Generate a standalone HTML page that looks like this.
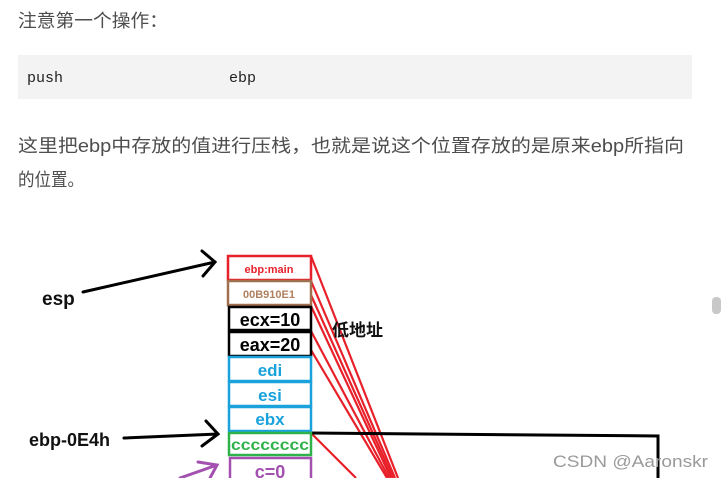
<!DOCTYPE html>
<html><head><meta charset="utf-8"><style>
html,body{margin:0;padding:0;background:#fff;width:723px;height:478px;overflow:hidden}
svg{display:block}
</style></head><body>
<svg width="723" height="478" xmlns="http://www.w3.org/2000/svg">
<g font-family="'Liberation Sans','Noto Sans CJK SC',sans-serif" fill="#4d4d4d">
<text x="18" y="27" font-size="18" textLength="150" lengthAdjust="spacingAndGlyphs">注意第一个操作：</text>
<rect x="18" y="55" width="674" height="44" fill="#f3f3f3"/>
<text x="27" y="82" font-family="'Liberation Mono',monospace" font-size="15" fill="#222">push</text>
<text x="229" y="82" font-family="'Liberation Mono',monospace" font-size="15" fill="#222">ebp</text>
<text x="18" y="152" font-size="18" textLength="666" lengthAdjust="spacingAndGlyphs">这里把ebp中存放的值进行压栈，也就是说这个位置存放的是原来ebp所指向</text>
<text x="18" y="186" font-size="18" textLength="66" lengthAdjust="spacingAndGlyphs">的位置。</text>
</g>
<rect x="712" y="297" width="9" height="17" rx="4" fill="#c8c8c8"/>
<g stroke="#e8202a" stroke-width="2.2">
<line x1="311" y1="256" x2="398" y2="478"/>
<line x1="311" y1="281" x2="395" y2="478"/>
<line x1="311" y1="295" x2="393" y2="478"/>
<line x1="311" y1="306" x2="391" y2="478"/>
<line x1="311" y1="331" x2="389" y2="478"/>
<line x1="311" y1="350" x2="387" y2="478"/>
<line x1="311" y1="433" x2="356" y2="478"/>
</g>
<polyline points="311,433 658,436 658,478" fill="none" stroke="#000" stroke-width="3"/>
<g stroke-width="2.5" fill="none">
<rect x="228" y="256" width="83" height="24" stroke="#e8202a"/>
<rect x="228" y="281" width="83" height="24" stroke="#a0704f"/>
<rect x="229" y="307" width="82" height="23" stroke="#000"/>
<rect x="229" y="332" width="82" height="24" stroke="#000"/>
<rect x="229" y="357" width="82" height="24" stroke="#1aa2dd"/>
<rect x="229" y="382" width="82" height="24" stroke="#1aa2dd"/>
<rect x="229" y="407" width="82" height="24" stroke="#1aa2dd"/>
<rect x="229" y="433" width="82" height="22" stroke="#2fb24a"/>
<rect x="230" y="458" width="81" height="24" stroke="#a350b0"/>
</g>
<g font-family="'Liberation Sans',sans-serif" font-weight="bold" text-anchor="middle">
<text x="269" y="273" font-size="11" fill="#e8202a">ebp:main</text>
<text x="269" y="298" font-size="11" fill="#b08060">00B910E1</text>
<text x="270" y="326" font-size="18" fill="#000">ecx=10</text>
<text x="270" y="351" font-size="18" fill="#000">eax=20</text>
<text x="270" y="376" font-size="17" fill="#1aa2dd">edi</text>
<text x="270" y="401" font-size="17" fill="#1aa2dd">esi</text>
<text x="270" y="425" font-size="17" fill="#1aa2dd">ebx</text>
<text x="270" y="450" font-size="16" fill="#2fb24a" textLength="78" lengthAdjust="spacingAndGlyphs">cccccccc</text>
<text x="270" y="478" font-size="18" fill="#a350b0">c=0</text>
</g>
<g font-family="'Liberation Sans','Noto Sans CJK SC',sans-serif" font-weight="bold" fill="#111">
<text x="42" y="305" font-size="19">esp</text>
<text x="29" y="446" font-size="18">ebp-0E4h</text>
<text x="332" y="336" font-size="17">低地址</text>
</g>
<g stroke="#000" stroke-width="3" fill="none" stroke-linecap="round">
<line x1="83" y1="292" x2="215" y2="262"/>
<polyline points="202,251 215,262 203,276"/>
<line x1="124" y1="438" x2="218" y2="434"/>
<polyline points="206,421 218,434 202,446"/>
</g>
<g stroke="#a350b0" stroke-width="3" fill="none" stroke-linecap="round">
<line x1="180" y1="478" x2="217" y2="465"/>
<polyline points="198,462 217,465 210,478"/>
</g>
<text x="553" y="467" font-family="'Liberation Sans',sans-serif" font-size="17" fill="#9a9a9a" textLength="155" lengthAdjust="spacingAndGlyphs">CSDN @Aaronskr</text>
</svg>
</body></html>
